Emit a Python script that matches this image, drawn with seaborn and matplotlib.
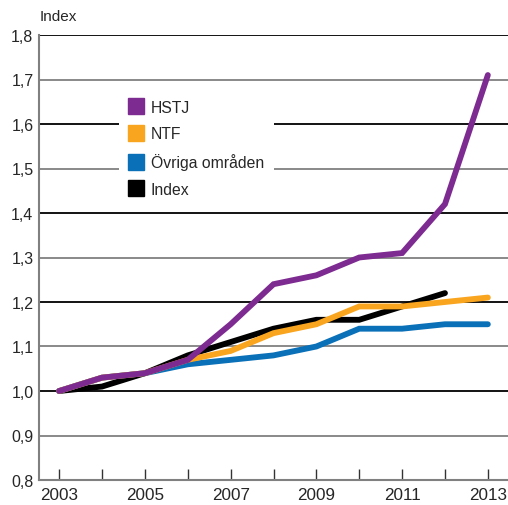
import numpy as np
import pandas as pd
import matplotlib
matplotlib.use("Agg")
import matplotlib.pyplot as plt
from matplotlib.lines import Line2D
from matplotlib.ticker import FuncFormatter, MultipleLocator, FixedLocator
import seaborn as sns

years = [2003, 2004, 2005, 2006, 2007, 2008, 2009, 2010, 2011, 2012, 2013]
hstj = [1.00, 1.03, 1.04, 1.07, 1.15, 1.24, 1.26, 1.30, 1.31, 1.42, 1.71]
ntf = [1.00, 1.03, 1.04, 1.07, 1.09, 1.13, 1.15, 1.19, 1.19, 1.20, 1.21]
ovriga = [1.00, 1.03, 1.04, 1.06, 1.07, 1.08, 1.10, 1.14, 1.14, 1.15, 1.15]
index = [1.00, 1.01, 1.04, 1.08, 1.11, 1.14, 1.16, 1.16, 1.19, 1.22, np.nan]

series_names = ["HSTJ", "NTF", "Övriga områden", "Index"]
colors = ["#7D2A91", "#F9A51F", "#0A70B8", "#000000"]

df = pd.DataFrame({"År": years, "HSTJ": hstj, "NTF": ntf,
                   "Övriga områden": ovriga, "Index": index})
long = df.melt(id_vars="År", var_name="Serie", value_name="Värde").dropna()

sns.set_style("white")
plt.rcParams["font.family"] = ["Liberation Sans", "DejaVu Sans"]

fig = plt.figure(figsize=(5.08, 5.06), dpi=100)
ax = fig.add_axes([39 / 508, 25 / 506, 469 / 508, 445 / 506])

# grid lines, alternating black / gray
for i, yv in enumerate(np.arange(0.9, 1.81, 0.1)):
    ax.axhline(yv, color="#000000" if i % 2 == 1 else "#808080", lw=1.3, zorder=0)

# draw order: Index and Övriga under, HSTJ on top
order = ["Index", "Övriga områden", "NTF", "HSTJ"]
for name in order:
    sub = long[long["Serie"] == name]
    sns.lineplot(data=sub, x="År", y="Värde", color=colors[series_names.index(name)],
                 lw=4.2, ax=ax, legend=False, solid_capstyle="round",
                 solid_joinstyle="miter")

ax.set_xlim(2002.53, 2013.47)
ax.set_ylim(0.8, 1.8)
ax.set_xlabel("")
ax.set_ylabel("")

ax.xaxis.set_major_locator(FixedLocator(years[::2]))
ax.xaxis.set_minor_locator(FixedLocator(years[1::2]))
ax.yaxis.set_major_locator(MultipleLocator(0.1))
ax.yaxis.set_major_formatter(FuncFormatter(lambda v, p: f"{v:.1f}".replace(".", ",")))
ax.xaxis.set_major_formatter(FuncFormatter(lambda v, p: f"{int(v)}"))

ax.tick_params(axis="x", which="both", direction="in", length=8, width=1,
               color="#333333", labelsize=12.3, pad=5, bottom=True)
ax.tick_params(axis="y", which="both", length=0, labelsize=11.5, pad=4)

for s in ["top", "right"]:
    ax.spines[s].set_visible(False)
ax.spines["left"].set_color("#808080")
ax.spines["bottom"].set_color("#808080")
ax.spines["left"].set_linewidth(1.5)
ax.spines["bottom"].set_linewidth(1.5)

handles = [Line2D([], [], marker="s", ls="none", markersize=11,
                  markerfacecolor=c, markeredgecolor=c) for c in colors]
leg = ax.legend(handles, series_names, loc="upper left",
                bbox_to_anchor=(0.17, 0.876), frameon=True, fontsize=11.3,
                handlelength=1.0, handletextpad=0.45, labelspacing=0.75,
                borderpad=0.6, borderaxespad=0)
leg.get_frame().set_facecolor("white")
leg.get_frame().set_edgecolor("none")
leg.get_frame().set_alpha(1)
leg.set_zorder(1)

fig.text(40 / 508, 1 - 17 / 506, "Index", fontsize=11, va="center", ha="left")

fig.savefig("out.png", dpi=100)
